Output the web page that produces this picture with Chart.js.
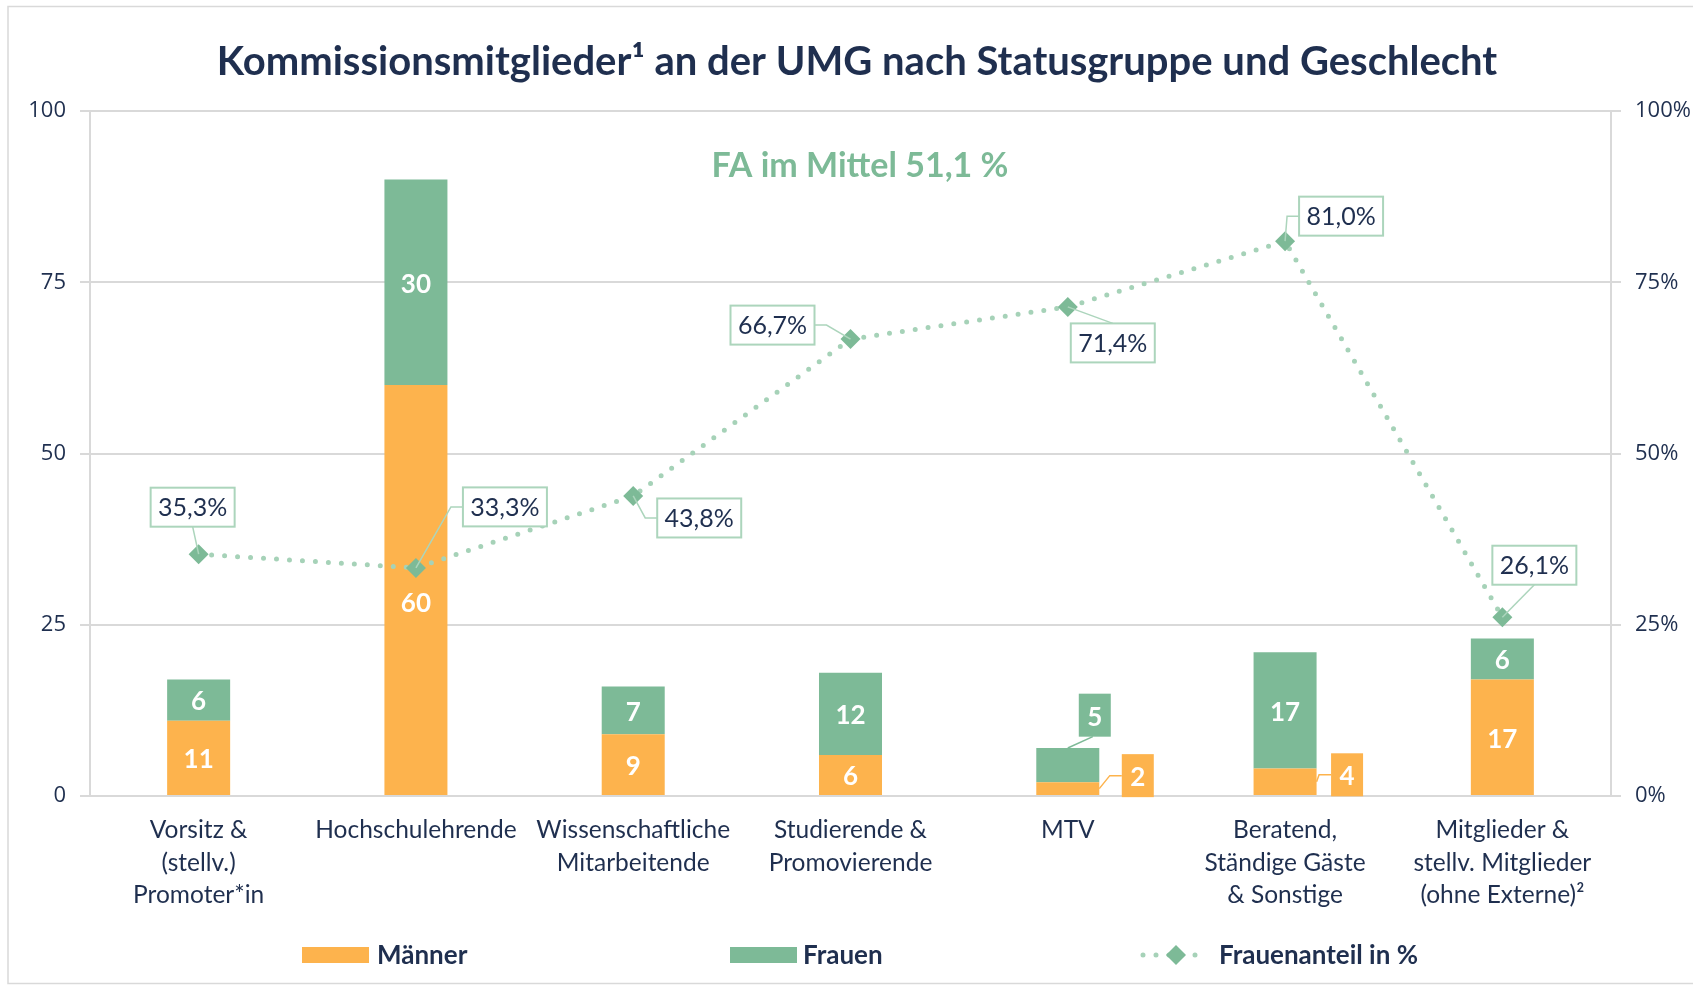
<!DOCTYPE html>
<html>
<head>
<meta charset="utf-8">
<script src="https://cdn.jsdelivr.net/npm/chart.js@4.4.1/dist/chart.umd.min.js"></script>
<style>
  html, body { margin: 0; padding: 0; background: #ffffff; }
  #wrap { width: 1693px; height: 986px; position: relative; }
</style>
</head>
<body>
<div id="wrap"><canvas id="c" width="1693" height="986"></canvas></div>
<script>
// Statusgruppen (x-axis categories, multi-line)
const categories = [
  ["Vorsitz &", "(stellv.)", "Promoter*in"],
  ["Hochschulehrende"],
  ["Wissenschaftliche", "Mitarbeitende"],
  ["Studierende &", "Promovierende"],
  ["MTV"],
  ["Beratend,", "Ständige Gäste", "& Sonstige"],
  ["Mitglieder &", "stellv. Mitglieder", "(ohne Externe)²"]
];
// Number of commission members per group
const maenner = [11, 60, 9, 6, 2, 4, 17];
const frauen = [6, 30, 7, 12, 5, 17, 6];
// Share of women in percent
const frauenanteil = [35.3, 33.3, 43.8, 66.7, 71.4, 81.0, 26.1];
// Axis ticks
const countTicks = [0, 25, 50, 75, 100];
const percentTicks = [0, 25, 50, 75, 100];
// Texts
const titleText = "Kommissionsmitglieder¹ an der UMG nach Statusgruppe und Geschlecht";
const noteText = "FA im Mittel 51,1 %";
const legendNames = ["Männer", "Frauen", "Frauenanteil in %"];

// Styling
const ORANGE = "#fdb34d";
const GREEN = "#7dba97";
const DOT_GREEN = "#a6d2b8";
const NAVY = "#1f2f4f";
const GRID = "#d9d9d9";
const LABEL_FONT = "Lato, 'Open Sans', sans-serif";
const TICK_FONT = "'Open Sans', Lato, sans-serif";

// Bar value labels moved away from their segment centre: offsets (px), keyed "dataset:index".
// boxed labels get a filled box and a leader line.
const barLabelShift = {
  "0:1": { dx: 0, dy: 12, boxed: false },
  "1:4": { dx: 27, dy: -50, boxed: true },
  "0:4": { dx: 70, dy: -13, boxed: true },
  "0:5": { dx: 62, dy: -7, boxed: true }
};
// Percentage callouts: offsets (px) of the box centre from the marker, and which box edge the leader leaves from
const pctCallout = [
  { dx: -6, dy: -47, side: "bottom" },
  { dx: 89, dy: -61, side: "left" },
  { dx: 66, dy: 22, side: "left" },
  { dx: -78, dy: -14, side: "right" },
  { dx: 45, dy: 36, side: "top" },
  { dx: 56, dy: -25, side: "left" },
  { dx: 32, dy: -52, side: "bottom" }
];

const fmtPct = v => v.toFixed(1).replace(".", ",") + "%";

const frame = {
  id: "frame",
  beforeDraw(chart) {
    const ctx = chart.ctx;
    ctx.save();
    ctx.fillStyle = "#ffffff";
    ctx.fillRect(0, 0, chart.width, chart.height);
    ctx.strokeStyle = GRID;
    ctx.lineWidth = 1.5;
    ctx.strokeRect(8, 6.5, chart.width + 20, 977);
    ctx.restore();
  }
};

const headings = {
  id: "headings",
  afterDraw(chart) {
    const ctx = chart.ctx;
    ctx.save();
    ctx.textAlign = "center";
    ctx.textBaseline = "middle";
    ctx.fillStyle = NAVY;
    ctx.font = "bold 40px " + LABEL_FONT;
    ctx.fillText(titleText, 857, 62);
    ctx.fillStyle = GREEN;
    ctx.font = "bold 34px " + LABEL_FONT;
    ctx.fillText(noteText, 860, 166);
    ctx.restore();
  }
};

function box(cx, cy, w, h) {
  return { l: cx - w / 2, r: cx + w / 2, t: cy - h / 2, b: cy + h / 2, cx, cy };
}

const valueLabels = {
  id: "valueLabels",
  afterDatasetsDraw(chart) {
    const ctx = chart.ctx;
    ctx.save();
    // bar segment values
    [0, 1].forEach(di => {
      const meta = chart.getDatasetMeta(di);
      const ds = chart.data.datasets[di];
      meta.data.forEach((el, i) => {
        const p = el.getProps(["x", "y", "base", "width"], true);
        const cy = (p.y + p.base) / 2;
        const txt = String(ds.data[i]);
        const shift = barLabelShift[di + ":" + i];
        ctx.font = "bold 26px " + LABEL_FONT;
        ctx.textAlign = "center";
        ctx.textBaseline = "middle";
        if (shift && shift.boxed) {
          const b = box(p.x + shift.dx, cy + shift.dy, 32, 43);
          ctx.strokeStyle = ds.backgroundColor;
          ctx.lineWidth = 1.5;
          ctx.beginPath();
          if (b.b < p.y) {
            ctx.moveTo(b.cx - 2, b.b);
            ctx.lineTo(p.x, p.y);
          } else {
            ctx.moveTo(b.l, b.cy);
            ctx.lineTo(b.l - 12, b.cy);
            ctx.lineTo(p.x + p.width / 2, cy);
          }
          ctx.stroke();
          ctx.fillStyle = ds.backgroundColor;
          ctx.fillRect(b.l, b.t, b.r - b.l, b.b - b.t);
          ctx.fillStyle = "#ffffff";
          ctx.fillText(txt, b.cx, b.cy + 2);
        } else {
          const dx = shift ? shift.dx : 0;
          const dy = shift ? shift.dy : 0;
          ctx.fillStyle = "#ffffff";
          ctx.fillText(txt, p.x + dx, cy + dy + 2);
        }
      });
    });
    // percentage callouts
    const lmeta = chart.getDatasetMeta(2);
    const lds = chart.data.datasets[2];
    lmeta.data.forEach((pt, i) => {
      const c = pctCallout[i];
      const b = box(pt.x + c.dx, pt.y + c.dy, 84, 39);
      ctx.strokeStyle = "#acd5bc";
      ctx.lineWidth = 1.5;
      ctx.beginPath();
      if (c.side === "bottom") {
        ctx.moveTo(b.cx, b.b);
      } else if (c.side === "top") {
        ctx.moveTo(b.cx, b.t);
      } else if (c.side === "left") {
        ctx.moveTo(b.l, b.cy);
        ctx.lineTo(b.l - 12, b.cy);
      } else {
        ctx.moveTo(b.r, b.cy);
        ctx.lineTo(b.r + 12, b.cy);
      }
      ctx.lineTo(pt.x, pt.y);
      ctx.stroke();
      ctx.fillStyle = "#ffffff";
      ctx.fillRect(b.l, b.t, b.r - b.l, b.b - b.t);
      ctx.lineWidth = 2;
      ctx.strokeRect(b.l, b.t, b.r - b.l, b.b - b.t);
      ctx.fillStyle = NAVY;
      ctx.font = "25px " + LABEL_FONT;
      ctx.textAlign = "center";
      ctx.textBaseline = "middle";
      ctx.fillText(fmtPct(lds.data[i]), b.cx, b.cy + 1);
    });
    ctx.restore();
  }
};

const legendRow = {
  id: "legendRow",
  afterDraw(chart) {
    const ctx = chart.ctx;
    const y = 955;
    const ds = chart.data.datasets;
    ctx.save();
    ctx.font = "bold 26px " + LABEL_FONT;
    ctx.textAlign = "left";
    ctx.textBaseline = "middle";
    // bar swatches
    ctx.fillStyle = ds[0].backgroundColor;
    ctx.fillRect(302, y - 8, 67, 16);
    ctx.fillStyle = ds[1].backgroundColor;
    ctx.fillRect(730, y - 8, 67, 16);
    // dotted line with diamond
    ctx.strokeStyle = ds[2].borderColor;
    ctx.lineWidth = 5;
    ctx.lineCap = "round";
    ctx.setLineDash([0, 13]);
    ctx.beginPath();
    ctx.moveTo(1143, y);
    ctx.lineTo(1208, y);
    ctx.stroke();
    ctx.setLineDash([]);
    ctx.fillStyle = ds[2].pointBackgroundColor;
    ctx.beginPath();
    ctx.moveTo(1176, y - 10);
    ctx.lineTo(1186, y);
    ctx.lineTo(1176, y + 10);
    ctx.lineTo(1166, y);
    ctx.closePath();
    ctx.fill();
    ctx.fillStyle = NAVY;
    ctx.fillText(legendNames[0], 377, y + 1);
    ctx.fillText(legendNames[1], 803, y + 1);
    ctx.fillText(legendNames[2], 1219, y + 1);
    ctx.restore();
  }
};

new Chart(document.getElementById("c"), {
  data: {
    labels: categories,
    datasets: [
      {
        type: "bar",
        label: legendNames[0],
        data: maenner,
        backgroundColor: ORANGE,
        yAxisID: "y",
        stack: "s",
        order: 1,
        categoryPercentage: 1,
        barPercentage: 0.29
      },
      {
        type: "bar",
        label: legendNames[1],
        data: frauen,
        backgroundColor: GREEN,
        yAxisID: "y",
        stack: "s",
        order: 2,
        categoryPercentage: 1,
        barPercentage: 0.29
      },
      {
        type: "line",
        label: legendNames[2],
        data: frauenanteil,
        yAxisID: "y1",
        order: 0,
        borderColor: DOT_GREEN,
        borderWidth: 5,
        borderDash: [0, 13],
        borderCapStyle: "round",
        tension: 0,
        fill: false,
        pointStyle: "rectRot",
        pointRadius: 10,
        pointBackgroundColor: GREEN,
        pointBorderColor: GREEN,
        pointBorderWidth: 0
      }
    ]
  },
  options: {
    responsive: false,
    animation: false,
    layout: { padding: { top: 111, left: 0, right: 0, bottom: 0 } },
    plugins: {
      legend: { display: false },
      title: { display: false },
      tooltip: { enabled: false }
    },
    scales: {
      x: {
        stacked: true,
        offset: true,
        grid: { display: false, drawTicks: false },
        border: { display: false },
        ticks: {
          color: NAVY,
          font: { family: LABEL_FONT, size: 24.5, lineHeight: "32.5px" },
          padding: 18,
          maxRotation: 0,
          autoSkip: false
        },
        afterFit(s) { s.height = 190; }
      },
      y: {
        stacked: true,
        position: "left",
        min: 0,
        max: 100,
        afterBuildTicks(s) { s.ticks = countTicks.map(v => ({ value: v })); },
        grid: { color: GRID, lineWidth: 2, tickLength: 10 },
        border: { color: GRID, width: 2 },
        ticks: { color: NAVY, font: { family: TICK_FONT, size: 22 }, padding: 14 },
        afterFit(s) { s.width = 90; }
      },
      y1: {
        position: "right",
        min: 0,
        max: 100,
        afterBuildTicks(s) { s.ticks = percentTicks.map(v => ({ value: v })); },
        grid: { drawOnChartArea: false, color: GRID, lineWidth: 2, tickLength: 10 },
        border: { color: GRID, width: 2 },
        ticks: {
          color: NAVY,
          font: { family: TICK_FONT, size: 22 },
          padding: 14,
          callback: v => v + "%"
        },
        afterFit(s) { s.width = 82; }
      }
    }
  },
  plugins: [frame, headings, valueLabels, legendRow]
});
</script>
</body>
</html>
